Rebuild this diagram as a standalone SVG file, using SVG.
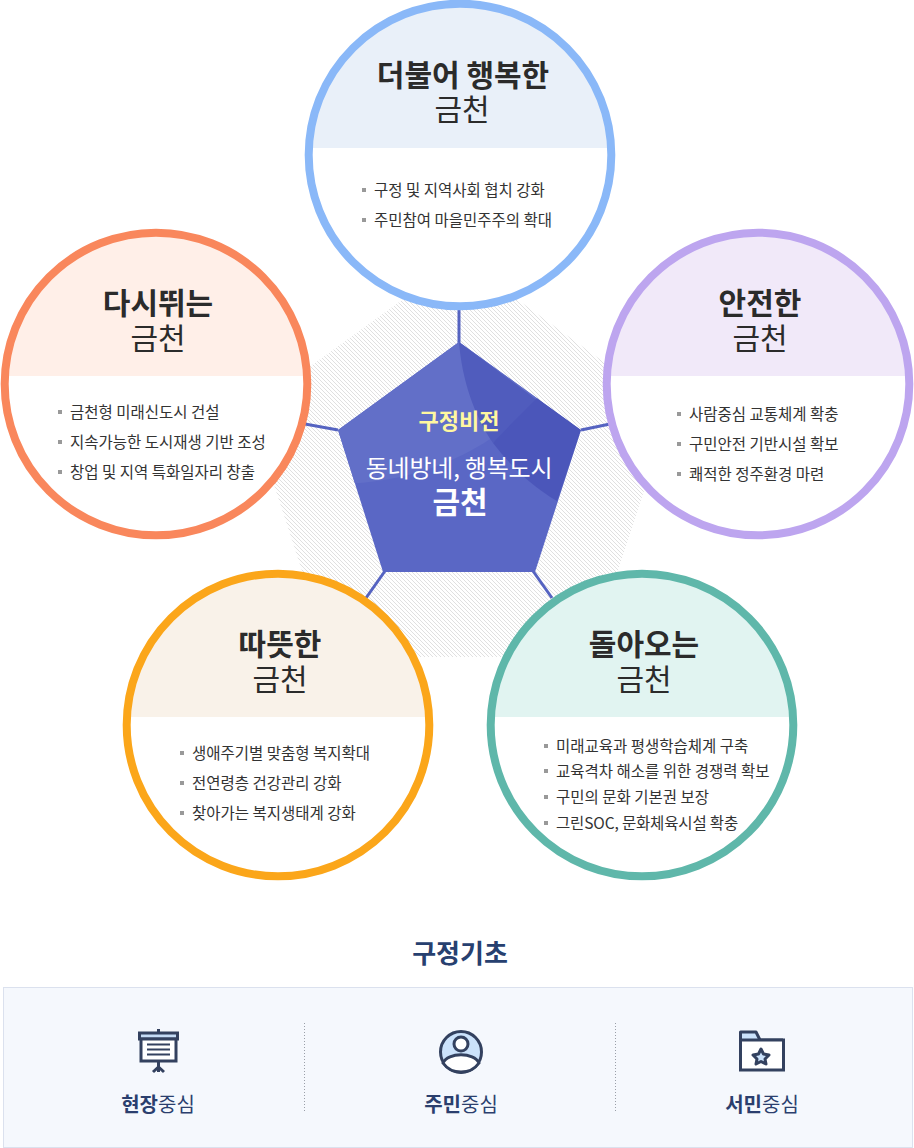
<svg xmlns="http://www.w3.org/2000/svg" width="914" height="1148" viewBox="0 0 914 1148">
<style>
text{font-family:"Noto Sans CJK KR","Liberation Sans",sans-serif;text-anchor:middle}
.t1{font-size:30px;font-weight:700;fill:#2b2b2b}
.t2{font-size:30px;font-weight:400;fill:#2b2b2b}
.li{font-size:15.5px;fill:#333;text-anchor:start}
.bul{fill:#999}
.conn{stroke:#5563c1;stroke-width:3;fill:none}
.ic{fill:none;stroke:#33415f;stroke-width:3}
.lab{font-size:20px;fill:#2b3f6e}
.lab tspan{font-weight:700}
.div{stroke:#9a9fa8;stroke-width:1;stroke-dasharray:1 2}
</style>
<defs>
<pattern id="hatchA" width="4" height="4" patternUnits="userSpaceOnUse"><rect width="4" height="4" fill="#fff"/><path d="M0,0h1v1h-1zM1,1h1v1h-1zM2,2h1v1h-1zM3,3h1v1h-1z" fill="#e0e0e0" shape-rendering="crispEdges"/></pattern>
<clipPath id="pent"><polygon points="459,342 581,430 535,572 383,572 338,430"/></clipPath>
<clipPath id="cTop"><circle cx="460" cy="155" r="151"/></clipPath>
<clipPath id="cL"><circle cx="156" cy="384" r="151"/></clipPath>
<clipPath id="cR"><circle cx="758" cy="384" r="151"/></clipPath>
<clipPath id="cBL"><circle cx="278" cy="725" r="151"/></clipPath>
<clipPath id="cBR"><circle cx="642" cy="725" r="151"/></clipPath>
</defs>
<rect width="914" height="1148" fill="#fff"/>
<polygon id="hatch" points="402,300 518,300 612,368 648,478.500 612,589 518,657 402,657 308,589 272,478.500 308,368" fill="url(#hatchA)"/>
<g id="connectors">
<line class="conn" x1="459" y1="300" x2="459" y2="343"/>
<line class="conn" x1="305" y1="424" x2="338" y2="430"/>
<line class="conn" x1="581" y1="430" x2="610" y2="424"/>
<line class="conn" x1="385" y1="571" x2="366" y2="598"/>
<line class="conn" x1="533" y1="571" x2="552" y2="598"/>
</g>
<g id="center">
<polygon points="459,342 581,430 535,572 383,572 338,430" fill="#5a67c5"/>
<g clip-path="url(#pent)">
<path d="M335,340 V484 C420,484 490,450 540,398 L459,340 Z" fill="#626fc8"/>
<path d="M459,342 C462,380 474,415 493,443 C510,430 525,412 537,400 Z" fill="#505cbd"/>
<path d="M493,443 C510,465 530,485 557,501 L581,430 L537,398 C520,415 505,430 493,443 Z" fill="#4b56ba"/>
</g>
<text x="459" y="429" font-size="22" font-weight="700" fill="#fff7a0">구정비전</text>
<text x="459" y="477" font-size="24" fill="#fff" letter-spacing="-0.2">동네방네, 행복도시</text>
<text x="460" y="513" font-size="30" font-weight="700" fill="#fff">금천</text>
</g>
<g id="node-top">
<circle cx="460" cy="155" r="151" fill="#fff"/>
<rect x="300" y="0" width="320" height="148" fill="#e9f0f9" clip-path="url(#cTop)"/>
<circle cx="460" cy="155" r="151.300" fill="none" stroke="#8ab8f8" stroke-width="8"/>
<text class="t1" x="463" y="86">더불어 행복한</text>
<text class="t2" x="462" y="120">금천</text>
<rect class="bul" x="362" y="188" width="4" height="4"/><text class="li" x="374" y="196">구정 및 지역사회 협치 강화</text>
<rect class="bul" x="362" y="218" width="4" height="4"/><text class="li" x="374" y="226">주민참여 마을민주주의 확대</text>
</g>
<g id="node-left">
<circle cx="156" cy="384" r="151" fill="#fff"/>
<rect x="0" y="225" width="320" height="151" fill="#ffefe8" clip-path="url(#cL)"/>
<circle cx="156" cy="384" r="151.300" fill="none" stroke="#f9875c" stroke-width="8"/>
<text class="t1" x="158" y="314">다시뛰는</text>
<text class="t2" x="158" y="349">금천</text>
<rect class="bul" x="58" y="410" width="4" height="4"/><text class="li" x="70" y="418">금천형 미래신도시 건설</text>
<rect class="bul" x="58" y="440" width="4" height="4"/><text class="li" x="70" y="448">지속가능한 도시재생 기반 조성</text>
<rect class="bul" x="58" y="470" width="4" height="4"/><text class="li" x="70" y="478">창업 및 지역 특화일자리 창출</text>
</g>
<g id="node-right">
<circle cx="758" cy="384" r="151" fill="#fff"/>
<rect x="600" y="225" width="320" height="151" fill="#f1e9f9" clip-path="url(#cR)"/>
<circle cx="758" cy="384" r="151.300" fill="none" stroke="#bda5ef" stroke-width="8"/>
<text class="t1" x="760" y="314">안전한</text>
<text class="t2" x="760" y="349">금천</text>
<rect class="bul" x="677" y="412" width="4" height="4"/><text class="li" x="689" y="420">사람중심 교통체계 확충</text>
<rect class="bul" x="677" y="442" width="4" height="4"/><text class="li" x="689" y="450">구민안전 기반시설 확보</text>
<rect class="bul" x="677" y="472" width="4" height="4"/><text class="li" x="689" y="480">쾌적한 정주환경 마련</text>
</g>
<g id="node-bottom-left">
<circle cx="278" cy="725" r="151" fill="#fff"/>
<rect x="120" y="570" width="320" height="147" fill="#f9f2e9" clip-path="url(#cBL)"/>
<circle cx="278" cy="725" r="151.300" fill="none" stroke="#fba61a" stroke-width="8"/>
<text class="t1" x="280" y="655">따뜻한</text>
<text class="t2" x="280" y="690">금천</text>
<rect class="bul" x="180" y="751" width="4" height="4"/><text class="li" x="192" y="759">생애주기별 맞춤형 복지확대</text>
<rect class="bul" x="180" y="781" width="4" height="4"/><text class="li" x="192" y="789">전연령층 건강관리 강화</text>
<rect class="bul" x="180" y="811" width="4" height="4"/><text class="li" x="192" y="819">찾아가는 복지생태계 강화</text>
</g>
<g id="node-bottom-right">
<circle cx="642" cy="725" r="151" fill="#fff"/>
<rect x="480" y="570" width="320" height="147" fill="#e1f4f1" clip-path="url(#cBR)"/>
<circle cx="642" cy="725" r="151.300" fill="none" stroke="#5fb7aa" stroke-width="8"/>
<text class="t1" x="644" y="655">돌아오는</text>
<text class="t2" x="644" y="690">금천</text>
<rect class="bul" x="544" y="744" width="4" height="4"/><text class="li" x="556" y="752">미래교육과 평생학습체계 구축</text>
<rect class="bul" x="544" y="769" width="4" height="4"/><text class="li" x="556" y="777">교육격차 해소를 위한 경쟁력 확보</text>
<rect class="bul" x="544" y="795" width="4" height="4"/><text class="li" x="556" y="803">구민의 문화 기본권 보장</text>
<rect class="bul" x="544" y="821" width="4" height="4"/><text class="li" x="556" y="829" letter-spacing="-0.15">그린SOC, 문화체육시설 확충</text>
</g>
<text id="base-title" x="460" y="963" font-size="26" font-weight="700" fill="#27406f">구정기초</text>
<g id="base">
<rect x="3.5" y="987.5" width="909" height="160" fill="#f5f8fd" stroke="#dbe1ee"/>
<line class="div" x1="304.5" y1="1023" x2="304.5" y2="1111"/>
<line class="div" x1="615.5" y1="1023" x2="615.5" y2="1111"/>
</g>
<g id="base-1">
<rect x="139.500" y="1033" width="38" height="6" fill="#c5dcf6" stroke="#33415f" stroke-width="3"/>
<rect x="141" y="1039" width="35" height="22" fill="#fff" stroke="#33415f" stroke-width="3"/>
<path class="ic" style="stroke-width:2" d="M147,1044.500H170M147,1049.500H170M147,1054.500H170"/>
<path class="ic" d="M158.500,1029V1033M158.500,1061V1072"/>
<path class="ic" d="M153,1072L158.500,1067L164,1072"/>
<text class="lab" x="158" y="1112"><tspan>현장</tspan>중심</text>
</g>
<g id="base-2">
<circle cx="461" cy="1052" r="20.500" fill="#cbe2fb" stroke="#33415f" stroke-width="3"/>
<circle cx="461" cy="1044" r="7" fill="#fff" stroke="#33415f" stroke-width="3"/>
<path d="M443,1063C448,1052 474,1052 479,1063C474,1070 468,1072 461,1072C454,1072 448,1070 443,1063Z" fill="#fff" stroke="#33415f" stroke-width="3"/>
<text class="lab" x="461" y="1112"><tspan>주민</tspan>중심</text>
</g>
<g id="base-3">
<path d="M740.500,1039V1032H756L760,1040H783" fill="#cbe2fb" stroke="#33415f" stroke-width="3" stroke-linejoin="round"/>
<rect x="740.500" y="1040" width="43" height="30" fill="#fff" stroke="#33415f" stroke-width="3"/>
<polygon points="761,1049 763.500,1054 769,1055 765,1059 766,1064 761,1061.500 756,1064 757,1059 753,1055 758.500,1054" fill="#cbe2fb" stroke="#33415f" stroke-width="3" stroke-linejoin="round"/>
<text class="lab" x="762" y="1112"><tspan>서민</tspan>중심</text>
</g>
</svg>
